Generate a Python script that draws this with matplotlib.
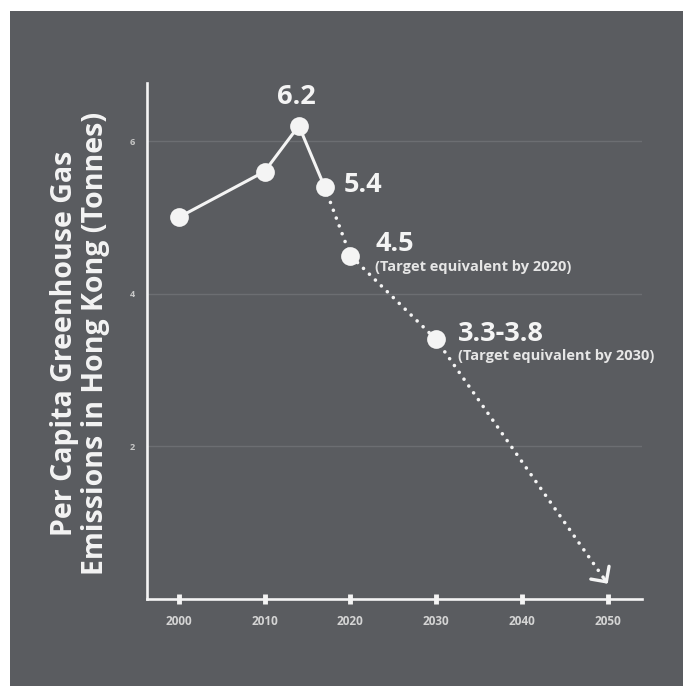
import matplotlib
matplotlib.use("Agg")
import matplotlib.pyplot as plt
from matplotlib.patches import Rectangle

# Recorded per-capita emissions (tonnes CO2e)
hist_years = [2000, 2010, 2014, 2017]
hist_values = [5.0, 5.6, 6.2, 5.4]

# Projected path towards targets, ending with an arrow at 2050
proj_years = [2017, 2020, 2030, 2050]
proj_values = [5.4, 4.5, 3.4, 0.2]

x_ticks = [2000, 2010, 2020, 2030, 2040, 2050]
y_ticks = [2, 4, 6]

# Value callouts: (year, value, headline, note)
callouts = [
    (2014, 6.2, "6.2", None),
    (2017, 5.4, "5.4", None),
    (2020, 4.5, "4.5", "(Target equivalent by 2020)"),
    (2030, 3.4, "3.3-3.8", "(Target equivalent by 2030)"),
]

BG = "#5a5c60"
FG = "#f4f4f4"
GRID = "#6c6e72"
FONT = ["Open Sans", "DejaVu Sans"]

W, H = 683, 686
fig = plt.figure(figsize=(W / 100, H / 100), dpi=100, facecolor="white")
fig.patches.append(Rectangle((10 / W, 0), 1, 1 - 11 / H, transform=fig.transFigure,
                             facecolor=BG, edgecolor="none", zorder=-10))

ax = fig.add_axes([147 / W, 1 - 599 / H, (642 - 147) / W, (599 - 83) / H])
ax.set_facecolor("none")
ax.set_xlim(1996.3, 2054)
ax.set_ylim(0, 6.76)

for s in ("top", "right"):
    ax.spines[s].set_visible(False)
for s in ("left", "bottom"):
    ax.spines[s].set_color(FG)
    ax.spines[s].set_linewidth(1.9)

ax.set_yticks(y_ticks)
ax.set_xticks(x_ticks)
ax.tick_params(axis="y", length=0, pad=9, labelsize=6.5, labelcolor="#c8c8c8")
ax.tick_params(axis="x", direction="inout", length=7, width=3.5, color=FG,
               pad=8, labelsize=8.5, labelcolor="#d4d4d4")
for lab in ax.get_xticklabels() + ax.get_yticklabels():
    lab.set_fontfamily(FONT)
    lab.set_fontweight("bold")

for v in y_ticks:
    ax.axhline(v, color=GRID, lw=1, zorder=0)

# Recorded series: solid line
ax.plot(hist_years, hist_values, color=FG, lw=2.2, marker="o", markersize=13.5,
        markerfacecolor=FG, markeredgewidth=0, zorder=4, clip_on=False)

# Projection: dotted line
ax.plot(proj_years, proj_values, color=FG, lw=2.6, linestyle=(0, (0.01, 2.3)),
        dash_capstyle="round", zorder=3, clip_on=False)
ax.plot(proj_years[1:3], proj_values[1:3], linestyle="none", marker="o",
        markersize=13.5, markerfacecolor=FG, markeredgewidth=0, zorder=4)

# Arrow head at the end of the projection
x_end, y_end = proj_years[-1], proj_values[-1]
dx = proj_years[-1] - proj_years[-2]
dy = proj_values[-1] - proj_values[-2]
ax.annotate("", xy=(x_end, y_end), xytext=(x_end - 0.02 * dx, y_end - 0.02 * dy),
            arrowprops=dict(arrowstyle="->,head_length=0.4,head_width=0.4",
                            color=FG, lw=2.4, mutation_scale=20, shrinkA=0, shrinkB=0),
            zorder=5)

# Callout labels
offsets = {
    "6.2": ((-2, 21), "center", "center"),
    "5.4": ((14, 1), "left", "center"),
    "4.5": ((18, 8), "left", "center"),
    "3.3-3.8": ((16, 4), "left", "center"),
}
for yr, val, head, note in callouts:
    (ox, oy), ha, va = offsets[head]
    ax.annotate(head, xy=(yr, val), xytext=(ox, oy), textcoords="offset points",
                ha=ha, va=va, fontsize=19.5, fontweight="bold", color=FG,
                fontfamily=FONT, zorder=6)
    if note:
        ax.annotate(note, xy=(yr, val), xytext=(ox, oy - 16), textcoords="offset points",
                    ha="left", va="center", fontsize=10.5, fontweight="bold",
                    color="#e6e6e6", fontfamily=FONT, zorder=6)

fig.text(80 / W, 1 - 343 / H,
         "Per Capita Greenhouse Gas\nEmissions in Hong Kong (Tonnes)",
         rotation=90, ha="center", va="center", fontsize=20.5, fontweight="bold",
         color=FG, fontfamily=FONT, linespacing=1.12, multialignment="center")

fig.savefig("out.png", dpi=100, facecolor=fig.get_facecolor())
